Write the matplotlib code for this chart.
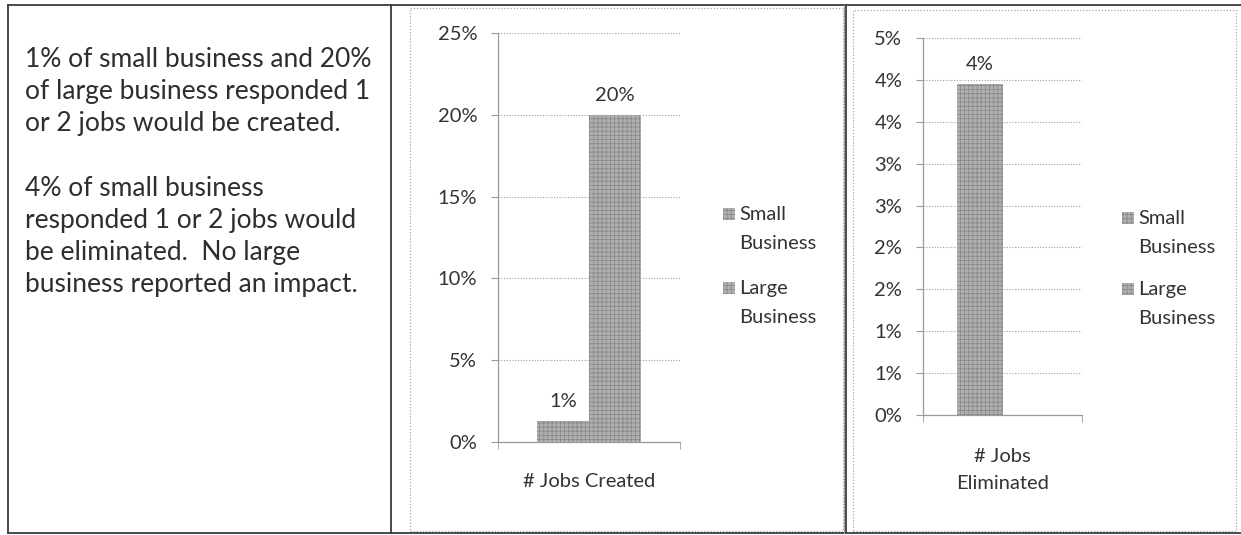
import matplotlib
matplotlib.use("Agg")
import matplotlib.pyplot as plt
from matplotlib.patches import Rectangle
from matplotlib.lines import Line2D

plt.rcParams['font.family'] = ['Lato', 'DejaVu Sans']
plt.rcParams['hatch.linewidth'] = 0.6

# ---------------- data ----------------
series = ["Small\nBusiness", "Large\nBusiness"]
created_cat = "# Jobs Created"
created_vals = [1.3, 20.0]          # percent
eliminated_cat = "# Jobs\nEliminated"
eliminated_vals = [3.95, 0.0]       # percent
ticks1 = [0, 5, 10, 15, 20, 25]
ticklabels1 = ["0%", "5%", "10%", "15%", "20%", "25%"]
ticks2 = [0, 0.5, 1.0, 1.5, 2.0, 2.5, 3.0, 3.5, 4.0, 4.5]
ticklabels2 = ["0%", "1%", "1%", "2%", "2%", "3%", "3%", "4%", "4%", "5%"]
note_text = ("1% of small business and 20%\n"
             "of large business responded 1\n"
             "or 2 jobs would be created.\n"
             "\n"
             "4% of small business\n"
             "responded 1 or 2 jobs would\n"
             "be eliminated.  No large\n"
             "business reported an impact.")

W, H = 1241, 535
fig = plt.figure(figsize=(W / 100, H / 100), dpi=100)
fig.patch.set_facecolor("white")

def fx(x):
    return x / W

def fy(y):
    return 1 - y / H

bar_face = "#b0b0b0"
hatch_col = "#8a8a8a"
text_col = "#333333"
axis_col = "#9a9a9a"
FS = 14.5

# ---------------- table borders ----------------
tcol = "#3c3c3c"
fig.add_artist(Line2D([fx(8), fx(1241)], [fy(5), fy(5)], color=tcol, lw=1.3))
fig.add_artist(Line2D([fx(8), fx(1241)], [fy(533), fy(533)], color=tcol, lw=1.3))
for xv in (8, 391, 846):
    fig.add_artist(Line2D([fx(xv), fx(xv)], [fy(5), fy(533)], color=tcol, lw=1.3))
fig.add_artist(Line2D([fx(844), fx(844)], [fy(5), fy(533)], color="#9a9a9a", lw=0.8))

# chart frames (dotted)
for (x0, y0, x1, y1) in [(410, 8, 843, 531), (853, 10, 1236, 531)]:
    fig.add_artist(Rectangle((fx(x0), fy(y1)), fx(x1) - fx(x0), fy(y0) - fy(y1),
                             fill=False, ec="#a8a8a8", lw=0.9, ls=(0, (1, 1.5))))

# ---------------- left note ----------------
fig.text(fx(25), fy(47), note_text, ha="left", va="top", fontsize=19,
         color="#2e2e2e", linespacing=1.36)

# ---------------- chart helper ----------------
def draw_chart(rect, cat, vals, ticks, ticklabels, ymax, pad_lab):
    l, t, r, b = rect
    ax = fig.add_axes([fx(l), fy(b), fx(r) - fx(l), fy(t) - fy(b)])
    w = 0.285
    offsets = [-w / 2, w / 2]
    for off, v in zip(offsets, vals):
        ax.bar(off, v, width=w, color=bar_face, edgecolor=hatch_col,
               hatch="++++", linewidth=0, zorder=3)
        if v > 0:
            ax.annotate(f"{v:.0f}%", (off, v), xytext=(0, 8),
                        textcoords="offset points", ha="center", va="bottom",
                        fontsize=FS, color=text_col)
    ax.set_xlim(-0.5, 0.5)
    ax.set_ylim(0, ymax)
    ax.set_yticks(ticks)
    ax.set_yticklabels(ticklabels)
    ax.set_xticks([0])
    ax.set_xticklabels([cat], linespacing=1.67)
    ax.set_xticks([-0.5, 0.5], minor=True)
    ax.tick_params(axis="x", which="major", length=0, pad=pad_lab,
                   labelsize=FS, labelcolor=text_col)
    ax.tick_params(axis="x", which="minor", length=5, color=axis_col,
                   direction="out")
    ax.tick_params(axis="y", length=5, color=axis_col, direction="out",
                   pad=10, labelsize=FS, labelcolor=text_col)
    for s in ("top", "right"):
        ax.spines[s].set_visible(False)
    for s in ("left", "bottom"):
        ax.spines[s].set_color(axis_col)
        ax.spines[s].set_linewidth(0.9)
    ax.yaxis.grid(True, color="#a0a0a0", lw=0.8, ls=(0, (1, 1.5)), zorder=0)
    ax.set_axisbelow(True)
    ax.set_facecolor("none")
    return ax

ax1 = draw_chart((498, 33, 680, 442), created_cat, created_vals,
                 ticks1, ticklabels1, 25, 22)
ax2 = draw_chart((923, 38, 1082, 415), eliminated_cat, eliminated_vals,
                 ticks2, ticklabels2, 4.5, 24)

# ---------------- legends (square aligned with first line) ----------------
def draw_legend(xsq, ys):
    for y, lab in zip(ys, series):
        fig.add_artist(Rectangle((fx(xsq), fy(y + 6)), fx(12), 12 / H,
                                 facecolor=bar_face, edgecolor=hatch_col,
                                 hatch="++++", lw=0))
        fig.text(fx(xsq + 16), fy(y - 8), lab, ha="left", va="top",
                 fontsize=FS, color=text_col, linespacing=1.85)

draw_legend(723, [214, 288])
draw_legend(1122, [218, 289])

fig.savefig("out.png", dpi=100, facecolor="white")
